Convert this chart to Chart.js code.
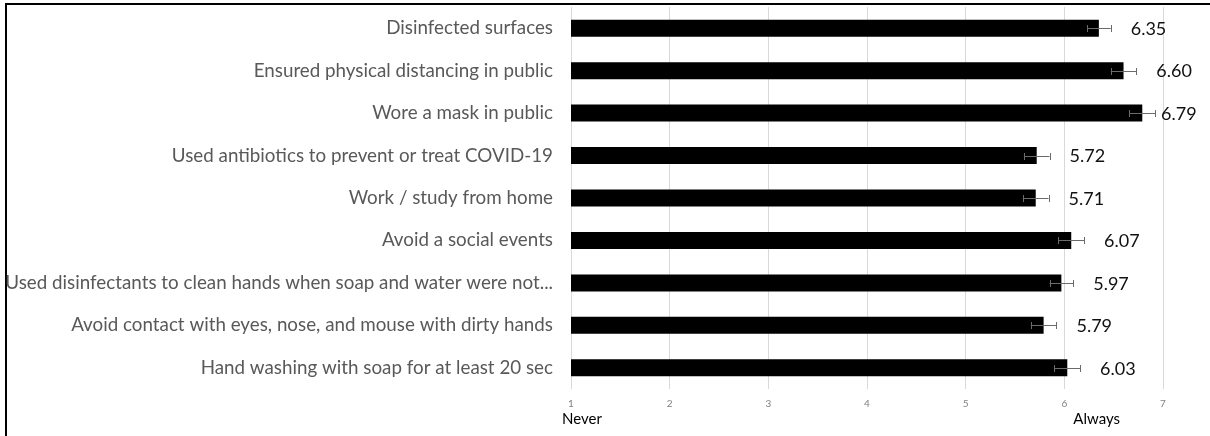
<!DOCTYPE html>
<html>
<head>
<meta charset="utf-8">
<script src="https://cdn.jsdelivr.net/npm/chart.js@4.4.1/dist/chart.umd.min.js"></script>
<style>
  html, body { margin: 0; padding: 0; background: #fff; overflow: hidden; }
  #wrap { position: relative; width: 1210px; height: 436px; }
  #frame {
    position: absolute; left: 5px; top: 3px; width: 1220px; height: 450px;
    border-top: 2px solid #000; border-left: 2px solid #000;
  }
  canvas { position: absolute; left: 0; top: 0; }
</style>
</head>
<body>
<div id="wrap">
  <div id="frame"></div>
  <canvas id="chart" width="1210" height="436"></canvas>
</div>
<script>
// behaviours, top to bottom
const behaviours = [
  'Disinfected surfaces',
  'Ensured physical distancing in public',
  'Wore a mask in public',
  'Used antibiotics to prevent or treat COVID-19',
  'Work / study from home',
  'Avoid a social events',
  'Used disinfectants to clean hands when soap and water were not...',
  'Avoid contact with eyes, nose, and mouse with dirty hands',
  'Hand washing with soap for at least 20 sec'
];
const meanScores = [6.35, 6.60, 6.79, 5.72, 5.71, 6.07, 5.97, 5.79, 6.03];
const errorMargins = [0.12, 0.13, 0.13, 0.13, 0.13, 0.13, 0.12, 0.13, 0.13];
const scaleTicks = [1, 2, 3, 4, 5, 6, 7];
const scaleEnds = [
  { value: 1, text: 'Never' },
  { value: 6, text: 'Always' }
];

const labelFont = 'Lato, "Liberation Sans", sans-serif';

// error bars + value labels
const errorBarPlugin = {
  id: 'errorBars',
  afterDatasetsDraw(chart) {
    const { ctx, scales: { x } } = chart;
    const meta = chart.getDatasetMeta(0);
    ctx.save();
    meta.data.forEach((bar, i) => {
      const lo = x.getPixelForValue(meanScores[i] - errorMargins[i]);
      const hi = x.getPixelForValue(meanScores[i] + errorMargins[i]);
      const y = Math.round(bar.y) + 0.5;
      ctx.strokeStyle = '#6b6b6b';
      ctx.lineWidth = 1;
      ctx.beginPath();
      ctx.moveTo(lo, y); ctx.lineTo(hi, y);
      ctx.moveTo(Math.round(lo) + 0.5, y - 3.5); ctx.lineTo(Math.round(lo) + 0.5, y + 3.5);
      ctx.moveTo(Math.round(hi) + 0.5, y - 3.5); ctx.lineTo(Math.round(hi) + 0.5, y + 3.5);
      ctx.stroke();

      const txt = meanScores[i].toFixed(2);
      ctx.font = '18px ' + labelFont;
      ctx.fillStyle = '#111';
      ctx.textBaseline = 'middle';
      ctx.textAlign = 'left';
      let tx = hi + 20;
      if (tx + ctx.measureText(txt).width > chart.width - 12) tx = hi + 6;
      ctx.fillText(txt, tx, bar.y + 1);
    });
    ctx.restore();
  },
  afterDraw(chart) {
    const { ctx, scales: { x } } = chart;
    ctx.save();
    ctx.font = '15px ' + labelFont;
    ctx.fillStyle = '#000';
    ctx.textBaseline = 'middle';
    ctx.textAlign = 'left';
    scaleEnds.forEach(e => {
      ctx.fillText(e.text, x.getPixelForValue(e.value) - 9 + (e.value > 1 ? 18 : 0), 419);
    });
    ctx.restore();
  }
};

new Chart(document.getElementById('chart'), {
  type: 'bar',
  data: {
    labels: behaviours,
    datasets: [{
      data: meanScores,
      backgroundColor: '#000',
      borderWidth: 0,
      barPercentage: 0.4,
      categoryPercentage: 1
    }]
  },
  options: {
    indexAxis: 'y',
    responsive: false,
    animation: false,
    devicePixelRatio: 1,
    layout: { padding: { left: 0, right: 47, top: 7, bottom: 0 } },
    scales: {
      x: {
        min: 1,
        max: 7,
        afterBuildTicks: (scale) => { scale.ticks = scaleTicks.map(v => ({ value: v })); },
        afterFit: (scale) => { scale.height = 47; },
        border: { display: false },
        grid: { color: '#d9d9d9', lineWidth: 1, drawTicks: false },
        ticks: {
          color: '#808080',
          padding: 9,
          font: { family: labelFont, size: 10 }
        }
      },
      y: {
        afterFit: (scale) => {
          scale.width = 571;
          scale.paddingTop = 0;
          scale.paddingBottom = 0;
        },
        border: { display: false },
        grid: { display: false, drawTicks: false },
        ticks: {
          color: '#595959',
          padding: 18,
          autoSkip: false,
          font: { family: labelFont, size: 18.8 }
        }
      }
    },
    plugins: {
      legend: { display: false },
      tooltip: { enabled: false }
    }
  },
  plugins: [errorBarPlugin]
});
</script>
</body>
</html>
